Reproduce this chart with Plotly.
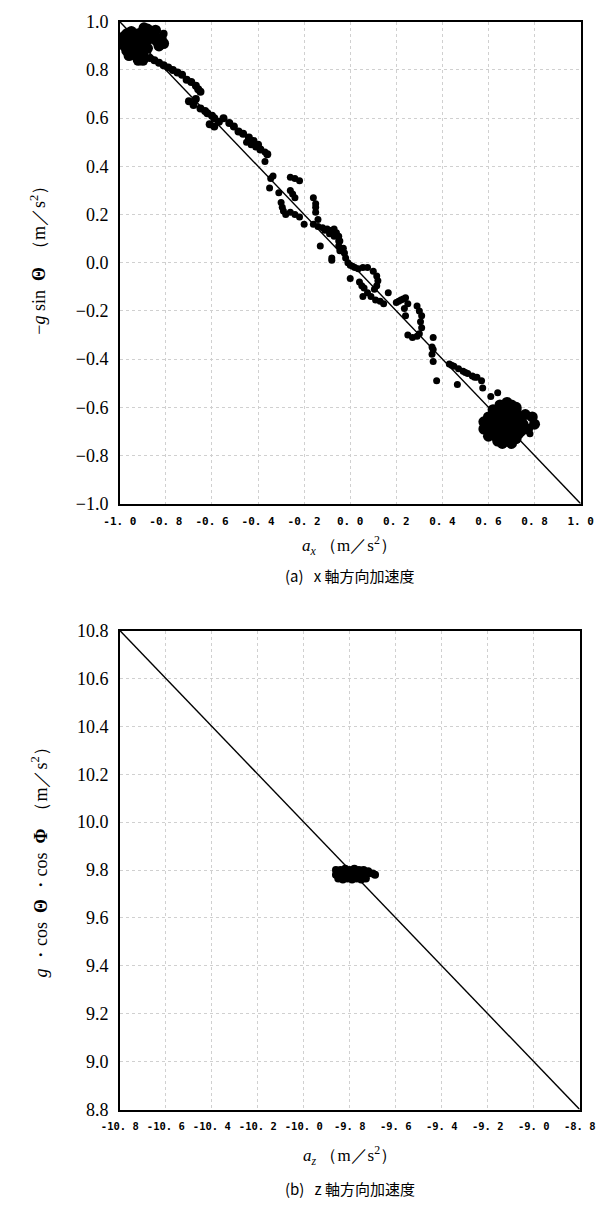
import plotly.graph_objects as go

# ---------------- data: (a) x-axis acceleration ----------------
diag_a_x = [-1.0, 1.0]
diag_a_y = [1.0, -1.0]

cluster_a_x = [-0.99, -0.98, -0.97, -0.96, -0.95, -0.94, -0.93, -0.92, -0.91, -0.90,
               -0.99, -0.97, -0.95, -0.93, -0.91, -0.89, -0.98, -0.96, -0.94, -0.92,
               -0.90, -0.88, -0.97, -0.95, -0.93, -0.91, -0.96, -0.94, -0.92, -0.90,
               -0.89, -0.88, -0.87, -0.85, -0.84, -0.82, -0.81, -0.86, -0.83, -0.90,
               -0.92, -0.895, -0.845]
cluster_a_y = [0.93, 0.90, 0.95, 0.92, 0.89, 0.94, 0.91, 0.88, 0.93, 0.90,
               0.91, 0.88, 0.96, 0.86, 0.85, 0.92, 0.94, 0.86, 0.90, 0.95,
               0.87, 0.89, 0.92, 0.87, 0.94, 0.89, 0.90, 0.93, 0.91, 0.96,
               0.94, 0.97, 0.93, 0.95, 0.92, 0.93, 0.91, 0.96, 0.90, 0.84,
               0.84, 0.975, 0.965]

trail1_x = [-0.87, -0.85, -0.83, -0.81, -0.79, -0.77, -0.75, -0.73, -0.71, -0.69,
            -0.67, -0.65, -0.67, -0.70, -0.68, -0.65, -0.62, -0.59, -0.61, -0.59,
            -0.57, -0.55, -0.525, -0.505, -0.485, -0.465, -0.44, -0.42, -0.40, -0.39,
            -0.36, -0.84, -0.81, -0.66, -0.63, -0.60]
trail1_y = [0.85, 0.84, 0.83, 0.82, 0.81, 0.80, 0.79, 0.78, 0.76, 0.75,
            0.735, 0.71, 0.68, 0.67, 0.655, 0.64, 0.62, 0.60, 0.575, 0.565,
            0.585, 0.60, 0.58, 0.565, 0.545, 0.535, 0.52, 0.505, 0.49, 0.47,
            0.45, 0.93, 0.95, 0.72, 0.63, 0.61]

trail2_x = [-0.45, -0.43, -0.41, -0.39, -0.37, -0.37, -0.345, -0.335, -0.35, -0.31,
            -0.26, -0.24, -0.22, -0.26, -0.25, -0.24, -0.30, -0.295, -0.29, -0.28,
            -0.26, -0.24, -0.22, -0.16, -0.15, -0.15, -0.15, -0.14, -0.20, -0.16,
            -0.14, -0.12, -0.10, -0.08, -0.06, -0.05, -0.045, -0.05, -0.045, -0.13,
            -0.08, -0.08, -0.11, -0.07]
trail2_y = [0.50, 0.49, 0.48, 0.47, 0.46, 0.42, 0.35, 0.36, 0.31, 0.29,
            0.355, 0.35, 0.34, 0.30, 0.285, 0.27, 0.25, 0.23, 0.215, 0.20,
            0.21, 0.20, 0.19, 0.27, 0.245, 0.23, 0.21, 0.18, 0.16, 0.16,
            0.15, 0.145, 0.14, 0.135, 0.125, 0.11, 0.09, 0.07, 0.05, 0.07,
            0.01, 0.02, 0.135, 0.14]

trail3_x = [-0.09, -0.07, -0.05, -0.03, -0.025, -0.02, -0.01, 0.0, 0.01, 0.02,
            0.035, 0.055, 0.075, 0.10, 0.115, 0.12, 0.115, 0.105, 0.0, 0.04,
            0.05, 0.06, 0.055, 0.075, 0.09, 0.11, 0.13, 0.145, 0.165, 0.20,
            0.22, 0.24, 0.25, 0.235, 0.24, 0.29, 0.30, 0.31, 0.305, 0.31,
            0.30, 0.25, 0.27, 0.29, 0.36, 0.355, 0.355, 0.36, 0.21, 0.23]
trail3_y = [0.12, 0.11, 0.09, 0.06, 0.04, 0.02, 0.0, -0.01, -0.015, -0.02,
            -0.025, -0.02, -0.02, -0.035, -0.055, -0.075, -0.095, -0.11, -0.065, -0.08,
            -0.095, -0.105, -0.14, -0.125, -0.14, -0.155, -0.16, -0.17, -0.125, -0.165,
            -0.155, -0.145, -0.17, -0.19, -0.22, -0.18, -0.20, -0.22, -0.245, -0.27,
            -0.295, -0.30, -0.31, -0.305, -0.31, -0.35, -0.38, -0.41, -0.16, -0.15]

trail4_x = [0.36, 0.43, 0.45, 0.47, 0.49, 0.51, 0.53, 0.55, 0.57, 0.375,
            0.465, 0.575, 0.61, 0.64, 0.78, 0.44, 0.50, 0.54]
trail4_y = [-0.36, -0.42, -0.43, -0.44, -0.45, -0.46, -0.47, -0.475, -0.49, -0.49,
            -0.505, -0.52, -0.555, -0.54, -0.71, -0.425, -0.455, -0.475]

cluster_b_x = [0.60, 0.62, 0.64, 0.66, 0.68, 0.70, 0.72, 0.74, 0.76,
               0.61, 0.63, 0.65, 0.67, 0.69, 0.71, 0.73, 0.75,
               0.62, 0.64, 0.66, 0.68, 0.70, 0.72, 0.74,
               0.63, 0.65, 0.67, 0.69, 0.71, 0.73,
               0.64, 0.66, 0.68, 0.70, 0.72,
               0.58, 0.58, 0.65, 0.68, 0.72, 0.79, 0.80, 0.77, 0.66, 0.70, 0.62, 0.60]
cluster_b_y = [-0.64, -0.63, -0.62, -0.64, -0.62, -0.63, -0.61, -0.64, -0.63,
               -0.67, -0.66, -0.68, -0.66, -0.65, -0.67, -0.66, -0.67,
               -0.70, -0.70, -0.69, -0.70, -0.69, -0.70, -0.70,
               -0.72, -0.73, -0.72, -0.73, -0.72, -0.71,
               -0.74, -0.75, -0.74, -0.75, -0.73,
               -0.66, -0.69, -0.59, -0.58, -0.60, -0.64, -0.67, -0.69, -0.60, -0.59, -0.61, -0.72]

ticks_a = [-1.0, -0.8, -0.6, -0.4, -0.2, 0.0, 0.2, 0.4, 0.6, 0.8, 1.0]
ticks_a_xtext = ["-1. 0", "-0. 8", "-0. 6", "-0. 4", "-0. 2", "0. 0", "0. 2", "0. 4", "0. 6", "0. 8", "1. 0"]
ticks_a_ytext = ["−1.0", "−0.8", "−0.6", "−0.4", "−0.2", "0.0", "0.2", "0.4", "0.6", "0.8", "1.0"]

# ---------------- data: (b) z-axis acceleration ----------------
diag_b_x = [-10.8, -8.8]
diag_b_y = [10.8, 8.8]

cluster_z_x = [-9.86, -9.84, -9.82, -9.80, -9.78, -9.76, -9.74, -9.72,
               -9.86, -9.84, -9.82, -9.80, -9.78, -9.76, -9.74, -9.72,
               -9.85, -9.83, -9.81, -9.79, -9.77, -9.75, -9.73,
               -9.70, -9.69]
cluster_z_y = [9.80, 9.80, 9.805, 9.80, 9.805, 9.80, 9.80, 9.795,
               9.78, 9.785, 9.78, 9.785, 9.78, 9.785, 9.78, 9.785,
               9.765, 9.76, 9.765, 9.76, 9.765, 9.76, 9.765,
               9.785, 9.78]

ticks_b = [-10.8, -10.6, -10.4, -10.2, -10.0, -9.8, -9.6, -9.4, -9.2, -9.0, -8.8]
ticks_b_xtext = ["-10. 8", "-10. 6", "-10. 4", "-10. 2", "-10. 0", "-9. 8", "-9. 6",
                 "-9. 4", "-9. 2", "-9. 0", "-8. 8"]
ticks_b_y = [8.8, 9.0, 9.2, 9.4, 9.6, 9.8, 10.0, 10.2, 10.4, 10.6, 10.8]
ticks_b_ytext = ["8.8", "9.0", "9.2", "9.4", "9.6", "9.8", "10.0", "10.2", "10.4", "10.6", "10.8"]

# ---------------- figure ----------------
W, H = 607, 1209
fig = go.Figure()

def pts(x, y, size, xa="x", ya="y"):
    fig.add_trace(go.Scatter(x=x, y=y, mode="markers", xaxis=xa, yaxis=ya,
                             marker=dict(color="black", size=size, line=dict(width=0)),
                             showlegend=False, hoverinfo="skip"))

fig.add_trace(go.Scatter(x=diag_a_x, y=diag_a_y, mode="lines", xaxis="x", yaxis="y",
                         line=dict(color="black", width=1.4), showlegend=False))
pts(cluster_a_x, cluster_a_y, 11)
pts(trail1_x, trail1_y, 8)
pts(trail2_x, trail2_y, 7)
pts(trail3_x, trail3_y, 7)
pts(trail4_x, trail4_y, 7)
pts(cluster_b_x, cluster_b_y, 11)

fig.add_trace(go.Scatter(x=diag_b_x, y=diag_b_y, mode="lines", xaxis="x2", yaxis="y2",
                         line=dict(color="black", width=1.4), showlegend=False))
pts(cluster_z_x, cluster_z_y, 8, "x2", "y2")

serif = "Liberation Serif"
cjk = "Noto Sans CJK JP"
monob = "DejaVu Sans Mono"

common = dict(showline=True, mirror=True, linecolor="black", linewidth=1.5,
              showgrid=True, gridcolor="#d0d0d0", griddash="dot", gridwidth=1,
              zeroline=False, ticks="", ticklabelstandoff=6, ticklabeloverflow="allow")

top_y0, top_y1 = 1 - 502 / H, 1 - 12 / H
bot_y0, bot_y1 = 1 - 1118 / H, 1 - 631 / H
x0, x1 = 107 / W, 596 / W

fig.update_layout(
    width=W, height=H, autosize=False,
    margin=dict(l=0, r=0, t=0, b=0),
    paper_bgcolor="white", plot_bgcolor="white",
    font=dict(family=serif, color="black"),
    xaxis=dict(domain=[x0, x1], range=[-1, 1], anchor="y",
               tickvals=ticks_a, ticktext=ticks_a_xtext,
               tickfont=dict(family=monob, size=11, color="black", weight="bold"), **common),
    yaxis=dict(domain=[top_y0, top_y1], range=[-1, 1], anchor="x",
               tickvals=ticks_a, ticktext=ticks_a_ytext,
               tickfont=dict(family=serif, size=18, color="black"), **common),
    xaxis2=dict(domain=[x0, 595 / W], range=[-10.8, -8.8], anchor="y2",
                tickvals=ticks_b, ticktext=ticks_b_xtext,
                tickfont=dict(family=monob, size=10.5, color="black", weight="bold"), **common),
    yaxis2=dict(domain=[bot_y0, bot_y1], range=[8.8, 10.8], anchor="x2",
                tickvals=ticks_b_y, ticktext=ticks_b_ytext,
                tickfont=dict(family=serif, size=18, color="black"), **common),
)

nb = "\u00a0"
def ann(text, px, py, size, family, angle=0):
    fig.add_annotation(text=text, x=px / W, y=1 - py / H, xref="paper", yref="paper",
                       showarrow=False, textangle=angle, xanchor="center", yanchor="middle",
                       font=dict(family=family, size=size, color="black"))

ann("<i>a<sub>x</sub></i>" + nb + "（m／s<sup>2</sup>）", 351, 545, 17, serif)
ann("(a)" + nb * 3 + "x 軸方向加速度", 351, 575, 15, cjk)
ann("−<i>g</i>" + nb + "sin" + nb * 2 + "<b>Θ</b>" + nb * 2 + "（m／s<sup>2</sup>）", 21, 250, 18, serif, -90)

ann("<i>a<sub>z</sub></i>" + nb + "（m／s<sup>2</sup>）", 351, 1165, 17, serif)
ann("(b)" + nb * 3 + "z 軸方向加速度", 351, 1198, 15, cjk)
ann("<i>g</i>" + nb + "・cos" + nb * 2 + "<b>Θ</b>" + nb + "・cos" + nb * 2 + "<b>Φ</b>" + nb * 2 +
    "（m／s<sup>2</sup>）", 22, 862, 18, serif, -90)

fig.write_html("out.html")
